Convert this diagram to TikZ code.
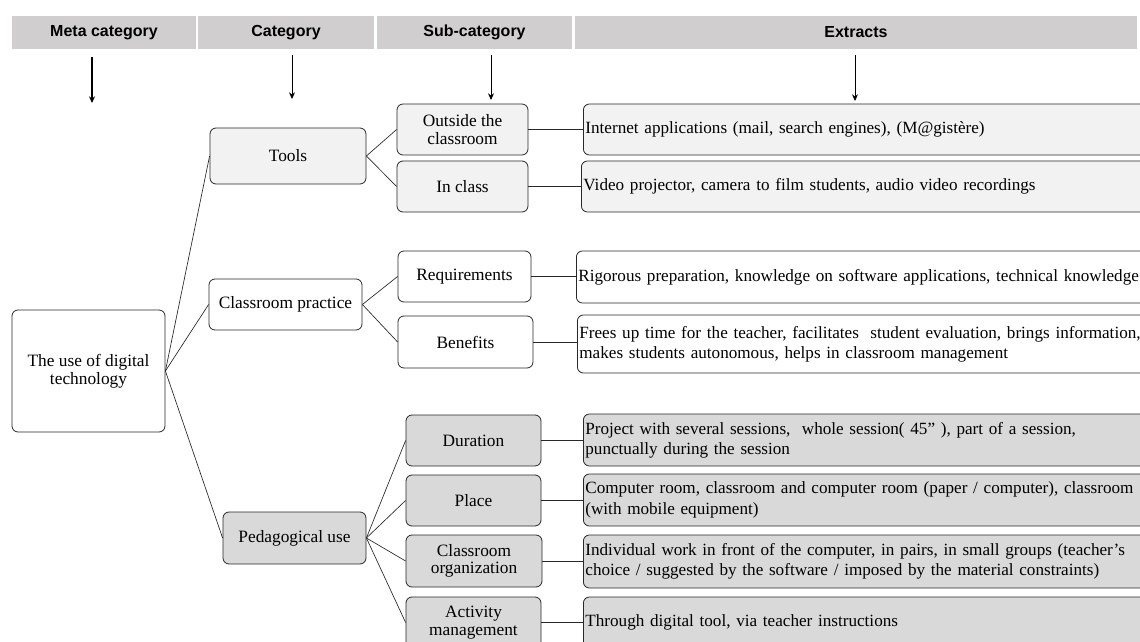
\documentclass[tikz,border=0pt]{standalone}
\usepackage{fontspec}
\setmainfont{Liberation Serif}
\newfontfamily\headfont{Liberation Sans}
\usetikzlibrary{arrows.meta}
\definecolor{Header}{RGB}{208,206,206}
\definecolor{Light_Fill}{RGB}{242,242,242}
\definecolor{Dark_Fill}{RGB}{217,217,217}
\definecolor{Edge}{RGB}{40,40,40}

\tikzset{
  box/.style={draw=Edge, line width=0.6pt, rounded corners=4.5pt, align=center,
    inner sep=1pt, font=\fontsize{13}{13.2}\selectfont},
  sz/.style 2 args={minimum width=#1*0.75pt, minimum height=#2*0.75pt},
  extract/.style={box, anchor=west, align=left, text width=620pt, inner xsep=1.5pt,
    font=\fontsize{12.85}{15.2}\selectfont},
  hdcell/.style={fill=Header, inner sep=0pt, font=\headfont\bfseries\fontsize{12}{14}\selectfont},
  hdarrow/.style={line width=0.6pt, -{Stealth[length=5pt,width=4.5pt]}},
  link/.style={draw=Edge, line width=0.5pt}
}

\begin{document}
\begin{tikzpicture}[x=0.75pt,y=-0.75pt]
    %% Canvas
    \useasboundingbox (0,0) rectangle (1140,642);
    \clip (0,0) rectangle (1140,642);

    %% Header row
    \node[hdcell, sz={184}{33}] (hmeta) at (104,32.5) {\raisebox{1pt}{Meta category}};
    \node[hdcell, sz={176}{33}] (hcat) at (286,32.5) {\raisebox{-2pt}{Category}};
    \node[hdcell, sz={195}{33}] (hsub) at (474.5,32.5) {\raisebox{-2pt}{Sub-category}};
    \node[hdcell, sz={562}{33}] (hext) at (856,32.5) {\raisebox{1pt}{Extracts}};

    %% Header arrows
    \coordinate (ameta) at (92,103);
    \coordinate (acat) at (292,99);
    \coordinate (asub) at (491,100);
    \coordinate (aext) at (855,101);
    \draw[hdarrow, line width=1.3pt] (ameta |- hmeta.south) ++(0,8) -- (ameta);
    \draw[hdarrow] (acat |- hcat.south) ++(0,6) -- (acat);
    \draw[hdarrow] (asub |- hsub.south) ++(0,6) -- (asub);
    \draw[hdarrow] (aext |- hext.south) ++(0,6) -- (aext);

    %% Meta category
    \node[box, sz={153}{122}] (root) at (88.5,371) {The use of digital\\technology};

    %% Categories
    \node[box, fill=Light_Fill, sz={156}{56}] (tools) at (288,156) {Tools};
    \node[box, sz={153}{51}] (practice) at (285.5,304.5) {Classroom practice};
    \node[box, fill=Dark_Fill, sz={143}{52}] (peda) at (294.5,538) {Pedagogical use};

    %% Sub-categories
    \node[box, fill=Light_Fill, sz={131}{51}] (outside) at (462.5,129.5) {Outside the\\classroom};
    \node[box, fill=Light_Fill, sz={131}{51}] (inclass) at (462.5,186.5) {In class};
    \node[box, sz={133}{51}] (require) at (464.5,276.5) {Requirements};
    \node[box, sz={135}{52}] (benefit) at (465.5,342) {Benefits};
    \node[box, fill=Dark_Fill, sz={135}{51}] (duration) at (473.5,440.5) {Duration};
    \node[box, fill=Dark_Fill, sz={135}{51}] (place) at (473.5,500.5) {Place};
    \node[box, fill=Dark_Fill, sz={136}{52}] (organize) at (474,561) {Classroom\\organization};
    \node[box, fill=Dark_Fill, sz={135}{51}] (activity) at (473.5,622.5) {Activity\\management};

    %% Extracts
    \node[extract, fill=Light_Fill, minimum height=51*0.75pt] (ext1) at (583,129.5)
      {Internet applications (mail, search engines), (M@gistère)};
    \node[extract, fill=Light_Fill, minimum height=51*0.75pt] (ext2) at (581,186.5)
      {Video projector, camera to film students, audio video recordings};
    \node[extract, minimum height=52*0.75pt] (ext3) at (576,277)
      {Rigorous preparation, knowledge on software applications, technical knowledge};
    \node[extract, minimum height=58*0.75pt] (ext4) at (577,344)
      {Frees up time for the teacher, facilitates\ \ student evaluation, brings information,\\
       makes students autonomous, helps in classroom management\\[-5pt]};
    \node[extract, fill=Dark_Fill, minimum height=52*0.75pt] (ext5) at (583,440)
      {Project with several sessions,\ \ whole session( 45” ), part of a session,\\
       punctually during the session};
    \node[extract, fill=Dark_Fill, minimum height=52*0.75pt] (ext6) at (583,500)
      {Computer room, classroom and computer room (paper / computer), classroom\\
       (with mobile equipment)};
    \node[extract, fill=Dark_Fill, minimum height=53*0.75pt] (ext7) at (583,561.5)
      {Individual work in front of the computer, in pairs, in small groups (teacher’s\\
       choice / suggested by the software / imposed by the material constraints)};
    \node[extract, fill=Dark_Fill, minimum height=51*0.75pt] (ext8) at (583,622.5)
      {Through digital tool, via teacher instructions};

    %% Links
    \foreach \c in {tools,practice,peda}
        \draw[link] (root.east) -- (\c.west);
    \foreach \c/\s in {tools/outside, tools/inclass, practice/require, practice/benefit,
                       peda/duration, peda/place, peda/organize, peda/activity}
        \draw[link] (\c.east) -- (\s.west);
    \foreach \s/\e in {outside/ext1, inclass/ext2, require/ext3, benefit/ext4,
                       duration/ext5, place/ext6, organize/ext7, activity/ext8}
        \draw[link] (\s.east) -- (\s.east -| \e.west);
\end{tikzpicture}
\end{document}
